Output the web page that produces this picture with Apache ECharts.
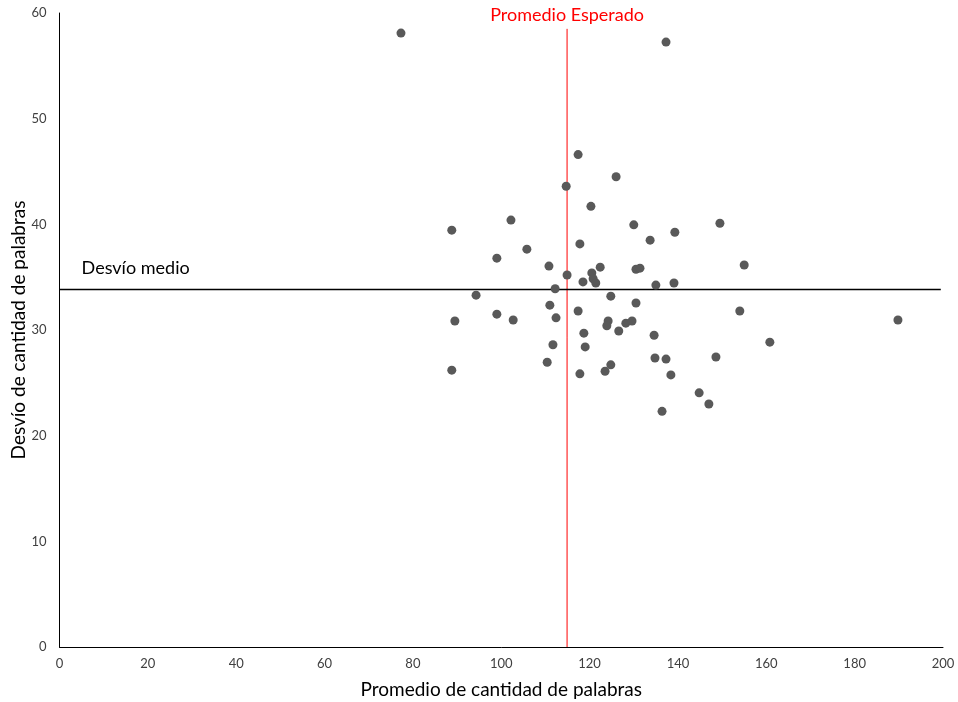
<!DOCTYPE html>
<html><head><meta charset="utf-8">
<script src="https://cdn.jsdelivr.net/npm/echarts@6/dist/echarts.min.js"></script>
<style>html,body{margin:0;padding:0;background:#fff}#c{width:958px;height:702px}</style>
</head><body><div id="c"></div>
<script>
const xValues = [77.3,137.3,117.4,126.0,114.7,120.3,102.2,88.8,130.0,149.5,139.3,133.7,117.8,105.8,99.0,110.8,155.0,130.5,131.4,120.5,122.4,114.9,118.5,120.8,121.4,135.0,139.1,112.2,94.3,124.8,111.0,130.5,154.0,117.4,99.0,112.4,89.5,102.7,124.2,123.9,128.2,129.6,126.6,189.8,118.7,134.6,160.8,111.7,119.0,110.4,88.8,117.8,123.5,124.8,134.8,137.3,148.6,138.4,144.8,147.0,136.4];
const yValues = [58.1,57.25,46.6,44.5,43.6,41.7,40.4,39.45,39.95,40.1,39.25,38.5,38.15,37.65,36.8,36.05,36.15,35.75,35.85,35.4,35.95,35.2,34.55,34.85,34.45,34.25,34.45,33.9,33.3,33.2,32.35,32.55,31.8,31.8,31.5,31.15,30.85,30.95,30.85,30.4,30.65,30.85,29.9,30.95,29.7,29.5,28.85,28.6,28.4,26.95,26.2,25.85,26.1,26.7,27.35,27.25,27.45,25.75,24.05,23.0,22.3];
const xTicks = [0,20,40,60,80,100,120,140,160,180,200];
const yTicks = [0,10,20,30,40,50,60];
const expectedMean = 114.9;
const expectedTop = 58.5;
const meanDeviation = 33.83;
const meanLineEnd = 199.5;
const meanLabelX = 5;
const points = xValues.map((x,i)=>[x,yValues[i]]);
const chart = echarts.init(document.getElementById('c'));
const font = 'Lato, "Open Sans", sans-serif';
chart.setOption({
  animation:false,
  grid:{left:59.5,right:15,top:13,bottom:55,containLabel:false,outerBoundsMode:'none'},
  xAxis:{type:'value',min:xTicks[0],max:xTicks[xTicks.length-1],interval:20,
    name:'Promedio de cantidad de palabras',nameLocation:'middle',nameGap:33,nameMoveOverlap:false,
    nameTextStyle:{fontFamily:font,fontSize:19,color:'#000'},
    axisLine:{show:true,lineStyle:{color:'#000',width:1}},axisTick:{show:false},
    splitLine:{show:false},axisLabel:{fontFamily:font,fontSize:13,color:'#404040',margin:10}},
  yAxis:{type:'value',min:yTicks[0],max:yTicks[yTicks.length-1],interval:10,
    name:'Desvío de cantidad de palabras',nameLocation:'middle',nameGap:31,nameMoveOverlap:false,
    nameTextStyle:{fontFamily:font,fontSize:19,color:'#000'},
    axisLine:{show:true,lineStyle:{color:'#000',width:1}},axisTick:{show:false},
    splitLine:{show:false},axisLabel:{fontFamily:font,fontSize:13,color:'#404040',margin:13}},
  series:[
    {type:'scatter',data:points,symbolSize:9,itemStyle:{color:'#595959',opacity:1},z:3},
    {type:'line',data:[[expectedMean,0],[expectedMean,expectedTop]],symbol:'none',
      lineStyle:{color:'#ff0000',width:1},z:2,
      markPoint:{symbol:'circle',symbolSize:0,data:[{coord:[expectedMean,expectedTop],value:'',
        label:{show:true,formatter:'Promedio Esperado',position:'top',distance:5,fontFamily:font,fontSize:18,color:'#ff0000'}}]}},
    {type:'line',data:[[0,meanDeviation],[meanLineEnd,meanDeviation]],symbol:'none',
      lineStyle:{color:'#000',width:1.5},z:2,
      markPoint:{symbol:'circle',symbolSize:0,data:[{coord:[meanLabelX,meanDeviation],value:'',
        label:{show:true,formatter:'Desvío medio',position:'top',distance:12,fontFamily:font,fontSize:18,color:'#000',align:'left'}}]}}
  ]
});
</script></body></html>
